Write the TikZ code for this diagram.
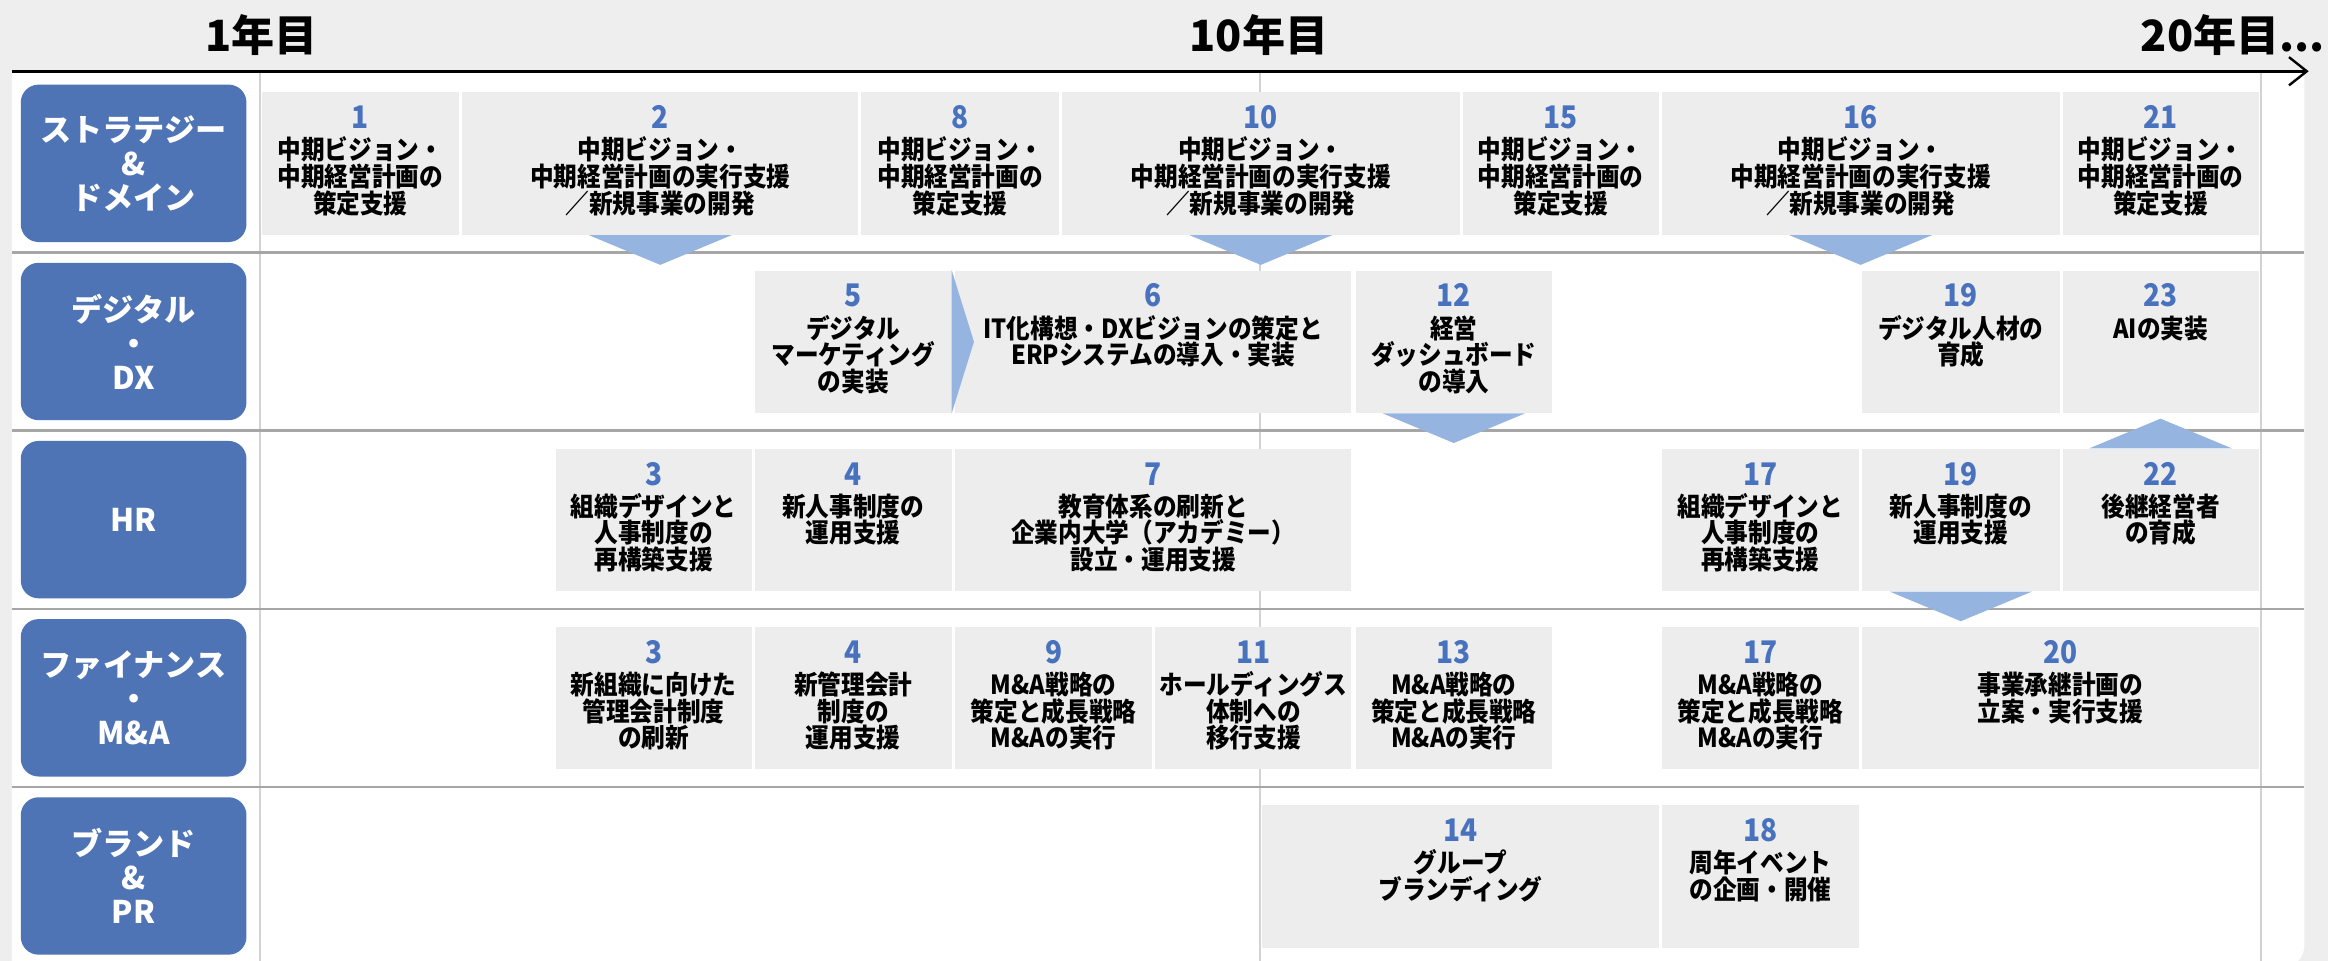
\documentclass[tikz,border=0pt]{standalone}
\usepackage{fontspec}
\setmainfont{Noto Sans CJK JP}
\newfontfamily\condjp{Noto Sans CJK JP}[FakeStretch=0.9]
\usetikzlibrary{arrows.meta}
\definecolor{labblue}{RGB}{79,116,181}
\definecolor{numblue}{RGB}{72,114,190}
\definecolor{boxgray}{RGB}{237,237,237}
\definecolor{tricol}{RGB}{149,181,224}
\definecolor{sepcol}{RGB}{166,166,166}
\definecolor{gridcol}{RGB}{210,210,210}
\definecolor{bgcol}{RGB}{238,238,238}
\newcommand\numb[1]{{\fontsize{21}{20}\selectfont\color{numblue}\rule{0pt}{16pt}#1}}
\newcommand\task[6]{%
  \node[tbox, minimum width={#3-#2}] (#1) at (#2,#4) {};
  \node[ttext] (#1t) at ([yshift=-8.5pt]#1.north) {\numb{#5}\\[3pt]#6};
}
\begin{document}
\begin{tikzpicture}[x=1pt,y=-1pt,
  tbox/.style={fill=boxgray, draw=none, inner sep=0pt, anchor=north west, minimum height=96pt},
  ttext/.style={inner sep=0pt, anchor=north, align=center, font=\condjp\fontsize{17.7}{18}\selectfont\bfseries, text=black},
  lab/.style={fill=labblue, draw=none, rounded corners=12pt, minimum width=152pt, minimum height=106pt, inner sep=0pt, align=center, text=white, font=\fontsize{21}{23}\selectfont\bfseries},
  year/.style={inner sep=0pt, anchor=base, font=\fontsize{29}{30}\selectfont\bfseries},
  tri/.style={fill=tricol, draw=none},
  sep/.style={draw=sepcol, line width=1.6pt},
  grid/.style={draw=gridcol, line width=1.6pt},
  axis/.style={line width=2pt, -{Straight Barb[length=12pt,width=19pt,line width=1.6pt]}}]
\useasboundingbox (0,0) rectangle (1568,647);
\fill[bgcol] (0,0) rectangle (1568,647);
\fill[white] (8,49) -- (1552,49) -- (1552,637) .. controls (1552,645) and (1546,651) .. (1538,651) -- (8,651) -- cycle;
% vertical grid
\draw[grid] (175,49) -- (175,651);
\draw[grid] (848.5,49) -- (848.5,651);
\draw[grid] (1523,49) -- (1523,651);
% row separators
\foreach \yy in {170,290,410,530} \draw[sep] (8,\yy) -- (1552,\yy);
% axis
\coordinate (axS) at (8,48);
\coordinate (axE) at (1555,48);
\draw[axis] (axS) -- (axE);
\node[year] (y1) at (176,35) {1年目};
\node[year] (y10) at (848,35) {10年目};
\node[year, anchor=base east] (y20) at (1566,35) {20年目...};
% labels
\node[lab] (L1) at (90,110) {ストラテジー\\\&\\ドメイン};
\node[lab] (L2) at (90,230) {デジタル\\・\\DX};
\node[lab] (L3) at (90,350) {HR};
\node[lab] (L4) at (90,470) {ファイナンス\\・\\M\&A};
\node[lab] (L5) at (90,590) {ブランド\\\&\\PR};
% row 1
\task{s1}{176}{309}{62}{1}{中期ビジョン・\\中期経営計画の\\策定支援}
\task{s2}{311}{578}{62}{2}{中期ビジョン・\\中期経営計画の実行支援\\／新規事業の開発}
\task{s8}{580}{713}{62}{8}{中期ビジョン・\\中期経営計画の\\策定支援}
\task{s10}{715}{983}{62}{10}{中期ビジョン・\\中期経営計画の実行支援\\／新規事業の開発}
\task{s15}{985}{1117}{62}{15}{中期ビジョン・\\中期経営計画の\\策定支援}
\task{s16}{1119}{1387}{62}{16}{中期ビジョン・\\中期経営計画の実行支援\\／新規事業の開発}
\task{s21}{1389}{1521}{62}{21}{中期ビジョン・\\中期経営計画の\\策定支援}
% row 2
\task{d5}{508}{641}{182}{5}{デジタル\\マーケティング\\の実装}
\task{d6}{643}{910}{182}{6}{IT化構想・DXビジョンの策定と\\ERPシステムの導入・実装}
\task{d12}{913}{1045}{182}{12}{経営\\ダッシュボード\\の導入}
\task{d19}{1254}{1387}{182}{19}{デジタル人材の\\育成}
\task{d23}{1389}{1521}{182}{23}{AIの実装}
% row 3
\task{h3}{374}{506}{302}{3}{組織デザインと\\人事制度の\\再構築支援}
\task{h4}{508}{641}{302}{4}{新人事制度の\\運用支援}
\task{h7}{643}{910}{302}{7}{教育体系の刷新と\\企業内大学（アカデミー）\\設立・運用支援}
\task{h17}{1119}{1252}{302}{17}{組織デザインと\\人事制度の\\再構築支援}
\task{h19}{1254}{1387}{302}{19}{新人事制度の\\運用支援}
\task{h22}{1389}{1521}{302}{22}{後継経営者\\の育成}
% row 4
\task{f3}{374}{506}{422}{3}{新組織に向けた\\管理会計制度\\の刷新}
\task{f4}{508}{641}{422}{4}{新管理会計\\制度の\\運用支援}
\task{f9}{643}{776}{422}{9}{M\&A戦略の\\策定と成長戦略\\M\&Aの実行}
\task{f11}{778}{910}{422}{11}{ホールディングス\\体制への\\移行支援}
\task{f13}{913}{1045}{422}{13}{M\&A戦略の\\策定と成長戦略\\M\&Aの実行}
\task{f17}{1119}{1252}{422}{17}{M\&A戦略の\\策定と成長戦略\\M\&Aの実行}
\task{f20}{1254}{1521}{422}{20}{事業承継計画の\\立案・実行支援}
% row 5
\task{p14}{850}{1117}{542}{14}{グループ\\ブランディング}
\task{p18}{1119}{1252}{542}{18}{周年イベント\\の企画・開催}
% triangles
\foreach \b in {s2,s10,s16,d12,h19}
  \fill[tri] ([xshift=-48pt]\b.south) -- ([xshift=48pt]\b.south) -- ([yshift=-20pt]\b.south) -- cycle;
\fill[tri] ([xshift=-48pt]h22.north) -- ([xshift=48pt]h22.north) -- ([yshift=20pt]h22.north) -- cycle;
\fill[tri] ([xshift=-2pt]d6.north west) -- ([xshift=-2pt]d6.south west) -- ([xshift=13pt]d6.west) -- cycle;
\end{tikzpicture}
\end{document}
